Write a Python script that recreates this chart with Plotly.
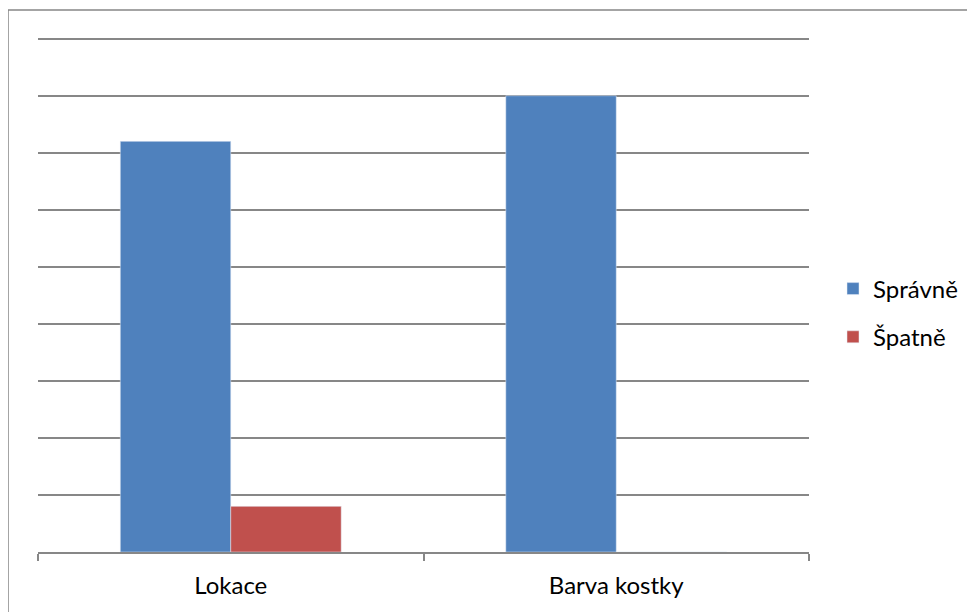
import plotly.graph_objects as go

categories = ["Lokace", "Barva kostky"]
spravne = [7.2, 8.0]
spatne = [0.8, 0.0]
series_names = ["Správně", "Špatně"]

OFF = 8  # page body margin
YMAX = 9.1
UNIT = 57.0
W, H = 975 - OFF, 612 - OFF
top_screen = 552 - YMAX * UNIT
L, R, T, B = 38 - OFF, 166, int(round(top_screen - OFF)), 60
pw, ph = W - L - R, H - T - B

def px_x(x):
    return (x - OFF - L) / pw

def px_y(y):
    return (H - B - (y - OFF)) / ph

fig = go.Figure()
fig.add_trace(go.Bar(x=categories, y=spravne, name=series_names[0],
                     marker_color="#4F81BD", legendgroup="a"))
fig.add_trace(go.Bar(x=categories, y=spatne, name=series_names[1],
                     marker_color="#C0504D", legendgroup="b"))

fig.update_layout(
    width=W, height=H,
    margin=dict(l=L, r=R, t=T, b=B),
    paper_bgcolor="white", plot_bgcolor="white",
    barmode="group", bargap=0.427, bargroupgap=0,
    font=dict(family="Lato", size=24, color="black"),
    legend=dict(x=px_x(833), y=px_y(313), xanchor="left", yanchor="middle",
                font=dict(size=24), tracegroupgap=14, traceorder="grouped",
                itemwidth=30),
    showlegend=True,
    xaxis=dict(showgrid=False, showline=True, linecolor="#878787", linewidth=1.5,
               ticks="outside", tickson="boundaries", ticklen=7,
               tickcolor="#878787", tickwidth=1.5, ticklabelstandoff=11),
    yaxis=dict(range=[0, YMAX], dtick=1, showgrid=True, gridcolor="#878787",
               gridwidth=1.5, showticklabels=False, zeroline=False,
               showline=False),
    shapes=[dict(type="rect", xref="paper", yref="paper",
                 x0=px_x(8), x1=px_x(975 + 50), y0=px_y(612 + 50), y1=px_y(10),
                 line=dict(color="#868686", width=1.5), layer="below")],
)

fig.write_html("out.html")
